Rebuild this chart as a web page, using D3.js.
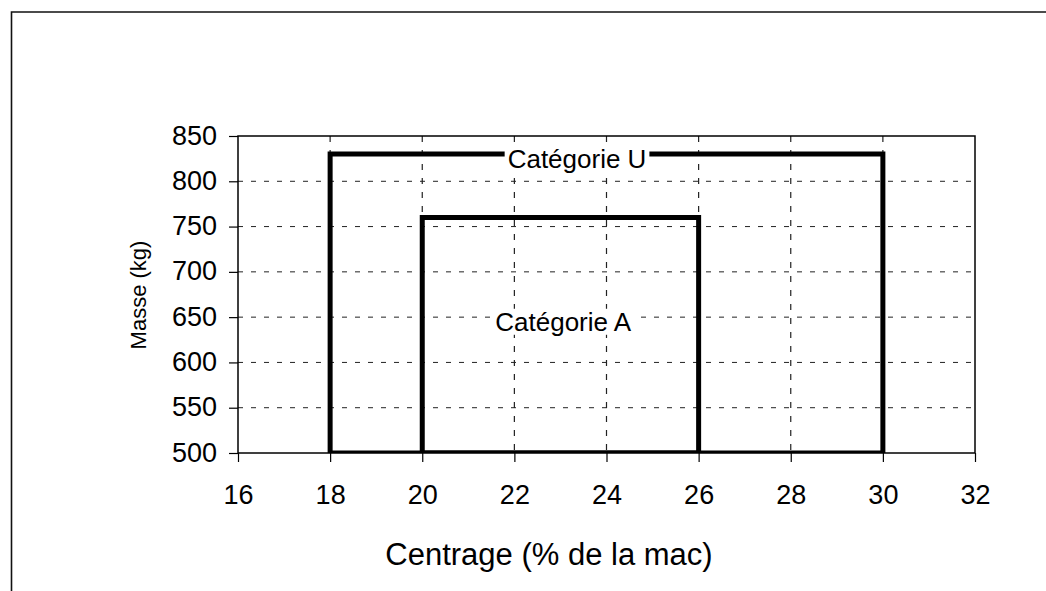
<!DOCTYPE html>
<html>
<head>
<meta charset="utf-8">
<script src="https://cdn.jsdelivr.net/npm/d3@7"></script>
<style>
  html, body { margin: 0; padding: 0; background: #fff; }
  svg { display: block; }
  text { font-family: "Liberation Sans", Arial, sans-serif; fill: #000; }
</style>
</head>
<body>
<svg id="chart" width="1046" height="591"></svg>
<script>
// ---- data ----
const xTicks = [16, 18, 20, 22, 24, 26, 28, 30, 32];
const yTicks = [500, 550, 600, 650, 700, 750, 800, 850];
const catU_x = [18, 18, 30, 30, 18];
const catU_y = [500, 830, 830, 500, 500];
const catA_x = [20, 20, 26, 26, 20];
const catA_y = [500, 760, 760, 500, 500];
const labelNames = ["Catégorie U", "Catégorie A"];
const labelX = [23.36, 23.06];
const labelY = [825, 645];
const xTitle = "Centrage (% de la mac)";
const yTitle = "Masse (kg)";

// ---- layout ----
const svg = d3.select("#chart");
const pL = 238, pR = 975, pT = 136, pB = 453;
const x = d3.scaleLinear().domain([16, 32]).range([pL, pR]);
const y = d3.scaleLinear().domain([500, 850]).range([pB, pT]);

// outer frame (extends beyond the picture on right and bottom)
svg.append("path")
  .attr("d", `M11.5,600 L11.5,12 L1060,12`)
  .attr("fill", "none").attr("stroke", "#111").attr("stroke-width", 1.6);

// gridlines
const g = svg.append("g");
g.selectAll("line.hg").data(yTicks.filter(v => v > 500 && v < 850)).join("line")
  .attr("x1", pL).attr("x2", pR)
  .attr("y1", d => y(d)).attr("y2", d => y(d))
  .attr("stroke", "#222").attr("stroke-width", 1).attr("stroke-dasharray", "5,8");
g.selectAll("line.vg").data(xTicks.filter(v => v > 16 && v < 32)).join("line")
  .attr("x1", d => x(d)).attr("x2", d => x(d))
  .attr("y1", pT).attr("y2", pB)
  .attr("stroke", "#222").attr("stroke-width", 1.2).attr("stroke-dasharray", "6,8");

// clip for series
svg.append("clipPath").attr("id", "plotclip").append("rect")
  .attr("x", pL).attr("y", pT).attr("width", pR - pL).attr("height", pB - pT);

const line = d3.line().x(d => x(d[0])).y(d => y(d[1]));
const series = [d3.zip(catU_x, catU_y), d3.zip(catA_x, catA_y)];
svg.append("g").attr("clip-path", "url(#plotclip)")
  .selectAll("path").data(series).join("path")
  .attr("d", line)
  .attr("fill", "none").attr("stroke", "#000").attr("stroke-width", 5)
  .attr("stroke-linejoin", "miter");

// plot border
svg.append("rect")
  .attr("x", pL).attr("y", pT).attr("width", pR - pL).attr("height", pB - pT)
  .attr("fill", "none").attr("stroke", "#000").attr("stroke-width", 1.5);

// axes
const xAxis = svg.append("g").attr("transform", `translate(0,${pB})`)
  .call(d3.axisBottom(x).tickValues(xTicks).tickSize(9).tickPadding(23).tickFormat(d3.format("d")));
const yAxis = svg.append("g").attr("transform", `translate(${pL},0)`)
  .call(d3.axisLeft(y).tickValues(yTicks).tickSize(9).tickPadding(12).tickFormat(d3.format("d")));
[xAxis, yAxis].forEach(a => {
  a.select(".domain").remove();
  a.selectAll(".tick line").attr("stroke", "#000").attr("stroke-width", 1.2);
  a.selectAll("text").style("font-family", '"Liberation Sans", Arial, sans-serif')
    .style("font-size", "27px").attr("fill", "#000");
});
yAxis.selectAll("text").attr("dy", "0.3em");

// category labels with white background
const labs = svg.append("g").selectAll("g").data(labelNames).join("g");
labs.each(function(d, i) {
  const gg = d3.select(this);
  const t = gg.append("text")
    .attr("x", x(labelX[i])).attr("y", y(labelY[i]))
    .attr("text-anchor", "middle").attr("dy", "0.35em")
    .style("font-size", "26px").text(d);
  const bb = t.node().getBBox();
  gg.insert("rect", "text")
    .attr("x", bb.x - 3).attr("y", bb.y + 2).attr("width", bb.width + 6).attr("height", bb.height - 4)
    .attr("fill", "#fff");
});

// axis titles
svg.append("text").attr("x", 549).attr("y", 565).attr("text-anchor", "middle")
  .style("font-size", "31px").text(xTitle);
svg.append("text").attr("transform", `translate(138,295) rotate(-90)`)
  .attr("text-anchor", "middle").attr("dy", "0.35em")
  .style("font-size", "22px").text(yTitle);
</script>
</body>
</html>
